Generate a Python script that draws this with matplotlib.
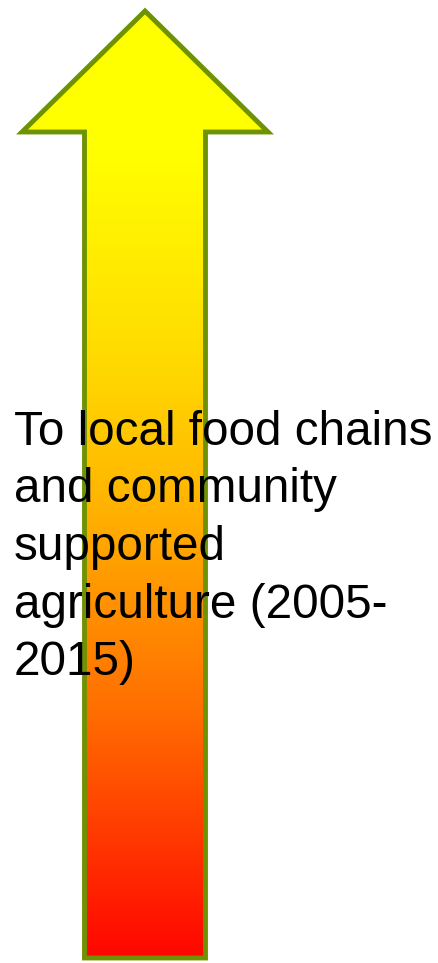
import numpy as np
import matplotlib
matplotlib.use('Agg')
import matplotlib.pyplot as plt
from matplotlib.patches import Polygon

# arrow shape (pixel coords, y grows downward)
tip = (145, 11)
head_base_y = 132
head_x = [22, 268]
shaft_x = [84.5, 205.5]
bottom_y = 958

# gradient stops: y position and green channel (red=255, blue=0)
grad_y = [11, 150, 260, 360, 490, 710, 810, 958]
grad_g = [255, 255, 236, 218, 184, 110, 68, 5]

lines = ["To local food chains",
         "and community",
         "supported",
         "agriculture (2005-",
         "2015)"]
first_baseline = 445
line_step = 57.5

W, H = 438, 963
fig = plt.figure(figsize=(W / 100, H / 100), dpi=100)
ax = fig.add_axes([0, 0, 1, 1])
ax.set_xlim(0, W)
ax.set_ylim(H, 0)
ax.axis('off')

verts = [tip, (head_x[1], head_base_y), (shaft_x[1], head_base_y),
         (shaft_x[1], bottom_y), (shaft_x[0], bottom_y),
         (shaft_x[0], head_base_y), (head_x[0], head_base_y)]

rows = np.arange(H) + 0.5
g = np.interp(rows, grad_y, grad_g) / 255
img = np.zeros((H, 1, 3))
img[:, 0, 0] = 1.0
img[:, 0, 1] = g
im = ax.imshow(img, extent=[0, W, H, 0], aspect='auto', interpolation='bilinear', zorder=1)
clip = Polygon(verts, closed=True, transform=ax.transData, facecolor='none')
im.set_clip_path(clip)

ax.add_patch(Polygon(verts, closed=True, facecolor='none', edgecolor='#6e9200',
                     linewidth=3.5, joinstyle='miter', zorder=2))

for i, s in enumerate(lines):
    ax.text(14, first_baseline + i * line_step, s, fontsize=34.3,
            family='Liberation Sans', color='black', va='baseline', ha='left', zorder=3)

fig.savefig('out.png', dpi=100)
